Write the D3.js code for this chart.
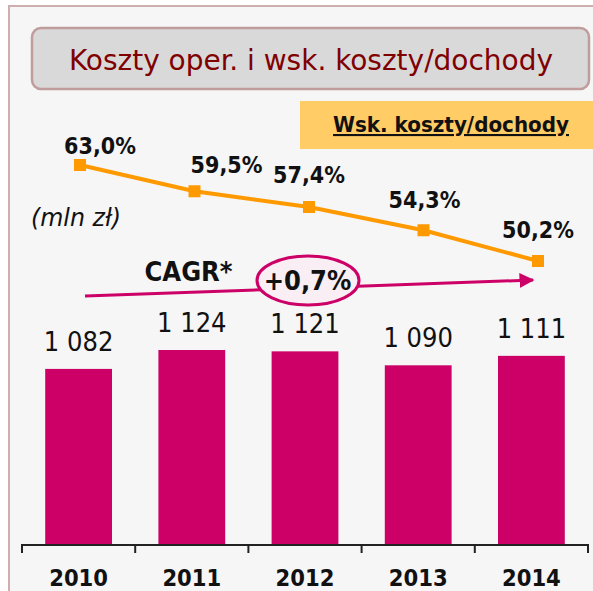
<!DOCTYPE html>
<html><head><meta charset="utf-8">
<script src="https://cdn.jsdelivr.net/npm/d3@7"></script>
<style>
html,body{margin:0;padding:0;background:#fff;}
svg{display:block;}
</style></head>
<body>
<svg id="c" width="593" height="591"></svg>
<script>
const years = ["2010","2011","2012","2013","2014"];
const costs = [1082, 1124, 1121, 1090, 1111];
const costLabels = ["1 082","1 124","1 121","1 090","1 111"];
const ratio = [63.0, 59.5, 57.4, 54.3, 50.2];
const ratioLabels = ["63,0%","59,5%","57,4%","54,3%","50,2%"];
const titleText = "Koszty oper. i wsk. koszty/dochody";
const legendText = "Wsk. koszty/dochody";
const unitText = "(mln zł)";
const cagrLabel = "CAGR*";
const cagrValue = "+0,7%";

// layout-only label nudges
const pctDx = [20, 32, 0, 1, 0];
const pctDy = [-11, -18, -24, -22, -23];

const FONT = "'DejaVu Sans Condensed', 'DejaVu Sans', sans-serif";
const svg = d3.select("#c");

// outer panel
svg.append("rect").attr("x",9).attr("y",6).attr("width",600).attr("height",600)
  .attr("fill","#f6f6f6").attr("stroke","#cfaeae").attr("stroke-width",2);

// title box
svg.append("rect").attr("x",32).attr("y",28).attr("width",557).attr("height",61)
  .attr("rx",9).attr("fill","#d9d9d9").attr("stroke","#c09c9c").attr("stroke-width",2.5);
svg.append("text").attr("x",311).attr("y",70).attr("text-anchor","middle")
  .attr("font-family",FONT).attr("font-size",29).attr("fill","#800000")
  .attr("textLength",484).attr("lengthAdjust","spacingAndGlyphs")
  .style("font-stretch","condensed").text(titleText);

// legend box
svg.append("rect").attr("x",300).attr("y",101).attr("width",300).attr("height",48)
  .attr("fill","#ffcc66");
svg.append("text").attr("x",451).attr("y",132).attr("text-anchor","middle")
  .attr("font-family",FONT).attr("font-weight","bold").attr("font-size",21)
  .attr("textLength",236).attr("lengthAdjust","spacingAndGlyphs")
  .attr("text-decoration","underline").attr("fill","#111")
  .style("font-stretch","condensed").text(legendText);

// scales
const x = d3.scaleBand().domain(years).range([22,588]).paddingInner(0.41).paddingOuter(0.205);
const y = d3.scaleLinear().domain([693,1124]).range([544,350]);
const xl = d3.scalePoint().domain(years).range([80,538]);
const yl = d3.scaleLinear().domain([50.2,63.0]).range([261,165]);

// bars
svg.append("g").selectAll("rect").data(years).join("rect")
  .attr("x",d=>x(d)).attr("width",x.bandwidth())
  .attr("y",(d,i)=>y(costs[i])).attr("height",(d,i)=>544-y(costs[i]))
  .attr("fill","#cc0066");

svg.append("g").selectAll("text").data(years).join("text")
  .attr("x",d=>x(d)+x.bandwidth()/2).attr("y",(d,i)=>y(costs[i])-18)
  .attr("text-anchor","middle").attr("font-family",FONT).attr("font-size",27)
  .attr("fill","#111").style("font-stretch","condensed")
  .text((d,i)=>costLabels[i]);

// x axis
const axisG = svg.append("g").attr("transform","translate(0,544)");
const tickXs = years.map(d=>x(d)-x.step()*x.paddingInner()/2).concat([588]);
tickXs[0]=22;
axisG.append("line").attr("x1",22).attr("x2",588).attr("y1",1).attr("y2",1)
  .attr("stroke","#222").attr("stroke-width",2);
axisG.selectAll("line.t").data(tickXs).join("line").attr("class","t")
  .attr("x1",d=>d).attr("x2",d=>d).attr("y1",0).attr("y2",9)
  .attr("stroke","#222").attr("stroke-width",2);
axisG.selectAll("text").data(years).join("text")
  .attr("x",d=>x(d)+x.bandwidth()/2).attr("y",42)
  .attr("text-anchor","middle").attr("font-family",FONT).attr("font-weight","bold")
  .attr("font-size",23.5).attr("fill","#111").style("font-stretch","condensed")
  .text(d=>d);

// ratio line
const line = d3.line().x((d,i)=>xl(years[i])).y(d=>yl(d));
svg.append("path").datum(ratio).attr("d",line).attr("fill","none")
  .attr("stroke","#ff9900").attr("stroke-width",4);
svg.append("g").selectAll("rect").data(ratio).join("rect")
  .attr("x",(d,i)=>xl(years[i])-6).attr("y",d=>yl(d)-6)
  .attr("width",12).attr("height",12).attr("fill","#ff9900");
svg.append("g").selectAll("text").data(ratio).join("text")
  .attr("x",(d,i)=>xl(years[i])+pctDx[i]).attr("y",(d,i)=>yl(d)+pctDy[i])
  .attr("text-anchor","middle").attr("font-family",FONT).attr("font-weight","bold")
  .attr("font-size",23).attr("fill","#111").style("font-stretch","condensed")
  .text((d,i)=>ratioLabels[i]);

// unit
svg.append("text").attr("x",31).attr("y",226).attr("font-family","'DejaVu Sans', sans-serif")
  .attr("font-style","italic").attr("font-size",24).attr("fill","#111")
  .attr("textLength",90).attr("lengthAdjust","spacingAndGlyphs")
  .text(unitText);

// CAGR arrow
const defs = svg.append("defs");
defs.append("marker").attr("id","ah").attr("viewBox","0 0 10 10").attr("refX",9).attr("refY",5)
  .attr("markerWidth",5).attr("markerHeight",5).attr("markerUnits","strokeWidth").attr("orient","auto")
  .append("path").attr("d","M0,0L10,5L0,10Z").attr("fill","#cc0066");
svg.append("line").attr("x1",85).attr("y1",296).attr("x2",533).attr("y2",280)
  .attr("stroke","#cc0066").attr("stroke-width",3).attr("marker-end","url(#ah)");
svg.append("ellipse").attr("cx",308).attr("cy",280.5).attr("rx",51).attr("ry",24.5)
  .attr("fill","#f9eef4").attr("stroke","#cc0066").attr("stroke-width",3);
svg.append("text").attr("x",307.5).attr("y",290).attr("text-anchor","middle")
  .attr("font-family",FONT).attr("font-weight","bold").attr("font-size",27)
  .attr("fill","#111").style("font-stretch","condensed").text(cagrValue);
svg.append("text").attr("x",188.5).attr("y",281).attr("text-anchor","middle")
  .attr("font-family",FONT).attr("font-weight","bold").attr("font-size",27)
  .attr("fill","#111").style("font-stretch","condensed").text(cagrLabel);
</script>
</body></html>
